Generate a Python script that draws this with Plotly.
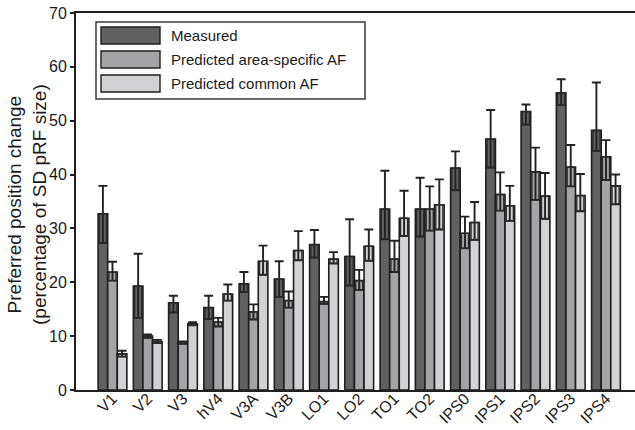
import plotly.graph_objects as go

areas = ["V1", "V2", "V3", "hV4", "V3A", "V3B", "LO1", "LO2", "TO1", "TO2",
         "IPS0", "IPS1", "IPS2", "IPS3", "IPS4"]

measured = [32.7, 19.3, 16.2, 15.3, 19.7, 20.6, 27.0, 24.8, 33.6, 33.6, 41.2, 46.6, 51.7, 55.2, 48.2]
measured_up = [5.2, 6.0, 1.3, 2.2, 2.2, 3.3, 2.7, 6.9, 7.1, 5.8, 3.1, 5.4, 1.3, 2.5, 8.9]
measured_lo = [5.4, 5.9, 1.8, 2.1, 1.5, 3.3, 2.4, 5.4, 5.6, 5.1, 4.1, 5.3, 2.4, 2.3, 3.8]

specific = [21.9, 10.0, 8.8, 12.6, 14.5, 16.6, 16.4, 20.3, 24.3, 33.6, 29.1, 36.3, 40.5, 41.4, 43.3]
specific_up = [1.9, 0.3, 0.2, 0.8, 1.4, 1.7, 0.9, 2.0, 3.4, 4.2, 3.1, 4.1, 4.5, 4.1, 3.1]
specific_lo = [1.6, 0.3, 0.2, 0.8, 1.4, 1.3, 0.4, 1.7, 2.4, 4.0, 2.8, 3.0, 5.2, 3.6, 4.3]

common = [6.7, 9.0, 12.3, 17.8, 23.9, 25.9, 24.3, 26.7, 31.9, 34.4, 31.1, 34.2, 36.0, 36.1, 37.9]
common_up = [0.6, 0.3, 0.3, 1.8, 2.9, 3.6, 1.3, 3.1, 5.1, 4.7, 3.8, 3.7, 4.3, 4.0, 2.1]
common_lo = [0.5, 0.3, 0.3, 1.2, 2.5, 1.8, 0.8, 2.7, 3.3, 4.6, 3.2, 2.8, 4.2, 2.9, 3.4]

series_names = ["Measured", "Predicted area-specific AF", "Predicted common AF"]
colors = ["#616161", "#a4a4a6", "#d2d2d4"]

FONT = "Liberation Sans, Arial, sans-serif"
BW = 0.272
offsets = [-1.5 * BW, -0.5 * BW, 0.5 * BW]
BOXW = 0.2

fig = go.Figure()
data = [(measured, measured_up, measured_lo), (specific, specific_up, specific_lo),
        (common, common_up, common_lo)]

for k, (vals, up, lo) in enumerate(data):
    fig.add_trace(go.Bar(
        x=areas, y=vals, name=series_names[k], width=BW, offset=offsets[k],
        marker=dict(color=colors[k], line=dict(color="#1e1e1e", width=1.6)),
        error_y=dict(type="data", symmetric=False, array=up, arrayminus=lo,
                     color="#222222", thickness=1.9, width=4.5),
        showlegend=False,
    ))
    # inner box marking the lower part of the error range
    fig.add_trace(go.Bar(
        x=areas, y=lo, base=[v - l for v, l in zip(vals, lo)],
        width=BOXW, offset=offsets[k] + (BW - BOXW) / 2,
        marker=dict(color="rgba(0,0,0,0)", line=dict(color="#2a2a2a", width=1.3)),
        showlegend=False, hoverinfo="skip",
    ))

W, H = 635, 426
L, R, T, B = 76, 635, 13, 390
CAT_PX = 35.25
X0 = -1.035
X1 = X0 + (R - L) / CAT_PX

def px(x):
    return (x - L) / (R - L)
def py(y):
    return (B - y) / (B - T)

shapes = [dict(type="rect", xref="paper", yref="paper", x0=px(96), x1=px(365),
               y0=py(99), y1=py(22), line=dict(color="#3a3a3a", width=1.5),
               fillcolor="white", layer="above")]
rows = [(27, 44), (51, 68), (75, 92)]
annotations = []
for k, (a, b) in enumerate(rows):
    shapes.append(dict(type="rect", xref="paper", yref="paper", x0=px(101), x1=px(160),
                       y0=py(b), y1=py(a), line=dict(color="#1e1e1e", width=1.4),
                       fillcolor=colors[k], layer="above"))
    annotations.append(dict(xref="paper", yref="paper", x=px(169), y=py((a + b) / 2),
                            text=series_names[k], showarrow=False, xanchor="left",
                            yanchor="middle", font=dict(family=FONT, size=15, color="#1a1a1a")))

annotations.append(dict(xref="paper", yref="paper", x=px(27), y=py(205),
                        text="Preferred position change<br>(percentage of SD pRF size)",
                        showarrow=False, textangle=-90, xanchor="center", yanchor="middle",
                        font=dict(family=FONT, size=19, color="#1a1a1a")))

fig.update_layout(
    width=W, height=H,
    margin=dict(l=L, r=W - R, t=T, b=H - B),
    paper_bgcolor="white", plot_bgcolor="white",
    barmode="overlay",
    font=dict(family=FONT, color="#1a1a1a"),
    shapes=shapes, annotations=annotations,
    xaxis=dict(range=[X0, X1], showline=True, linecolor="#1e1e1e", linewidth=2,
               mirror=True, ticks="", tickangle=-45, showgrid=False, automargin=False,
               ticklabelstandoff=-9,
               tickfont=dict(family=FONT, size=16, color="#1a1a1a")),
    yaxis=dict(range=[0, 70], showline=True, linecolor="#1e1e1e", linewidth=2,
               ticks="outside", ticklen=4, tickwidth=1.5, tickcolor="#1e1e1e",
               tickvals=[0, 10, 20, 30, 40, 50, 60, 70], showgrid=False, zeroline=False,
               mirror=False, automargin=False, ticklabeloverflow="allow",
               tickfont=dict(family=FONT, size=16, color="#1a1a1a")),
)

fig.write_html("out.html", config={"displayModeBar": False},
               post_script=("document.documentElement.style.overflow='hidden';"
                            "document.body.style.margin='0';"
                            "document.body.style.overflow='hidden';"))
